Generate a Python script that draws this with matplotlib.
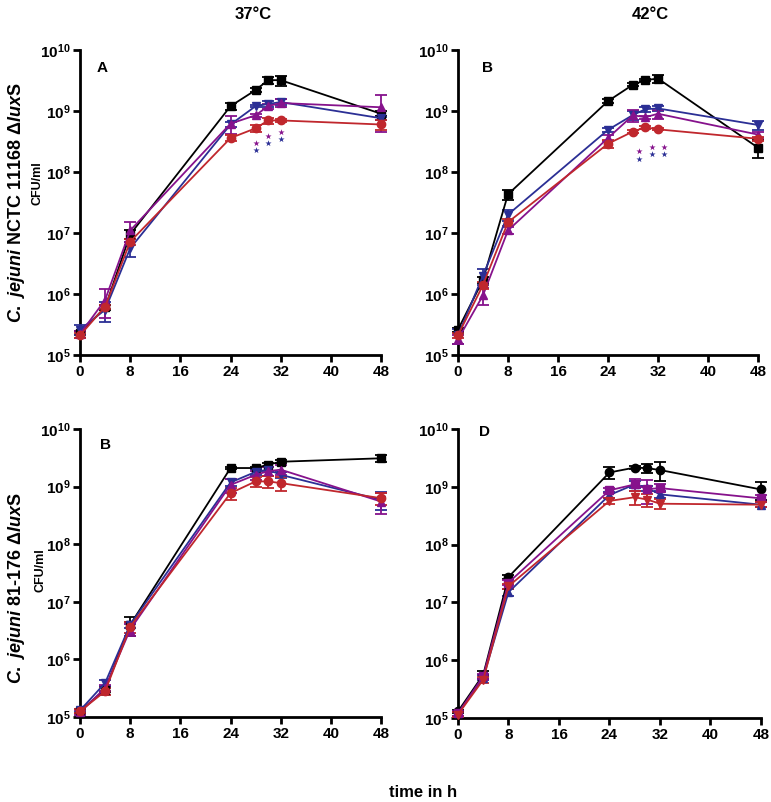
import matplotlib
matplotlib.use("Agg")
import matplotlib.pyplot as plt
from matplotlib.ticker import LogLocator, NullLocator, FixedLocator

plt.rcParams['font.family'] = ['Liberation Sans', 'DejaVu Sans']
plt.rcParams['mathtext.fontset'] = 'custom'
plt.rcParams['mathtext.rm'] = 'Liberation Sans:bold'
plt.rcParams['mathtext.it'] = 'Liberation Sans:italic:bold'
plt.rcParams['mathtext.bf'] = 'Liberation Sans:bold'
plt.rcParams['mathtext.default'] = 'rm'

hours = [0, 4, 8, 24, 28, 30, 32, 48]
x_ticks = [0, 8, 16, 24, 32, 40, 48]

BLACK = "#000000"
BLUE = "#2b2f95"
PURPLE = "#86128c"
RED = "#c0272d"

# panel A: NCTC 11168, 37 C
a_black = [2.3e5, 6.0e5, 9.5e6, 1.2e9, 2.2e9, 3.2e9, 3.2e9, 9.0e8]
a_black_err = [2e4, 5e4, 1.5e6, 1.5e8, 1.5e8, 4e8, 6e8, 8e7]
a_blue = [2.6e5, 5.5e5, 5.6e6, 6.0e8, 1.2e9, 1.3e9, 1.4e9, 7.6e8]
a_blue_err = [5e4, 2e5, 1.5e6, 5e7, 5e7, 1.5e8, 1.5e8, 5e7]
a_purple = [2.2e5, 8.0e5, 1.1e7, 6.2e8, 8.5e8, 1.2e9, 1.35e9, 1.15e9]
a_purple_err = [3e4, 4e5, 4e6, 2e8, 5e7, 1.2e8, 2e8, 7e8]
a_red = [2.1e5, 6.2e5, 7.2e6, 3.6e8, 5.2e8, 7.0e8, 7.0e8, 6.0e8]
a_red_err = [2e4, 5e4, 8e5, 4e7, 7e7, 8e7, 5e7, 1.2e8]

# panel B: NCTC 11168, 42 C
b_black = [2.6e5, 1.7e6, 4.3e7, 1.45e9, 2.7e9, 3.2e9, 3.4e9, 2.5e8]
b_black_err = [2e4, 2e5, 8e6, 1e8, 1.5e8, 1e8, 5e8, 8e7]
b_blue = [2.1e5, 2.0e6, 2.0e7, 4.9e8, 8.6e8, 1.07e9, 1.1e9, 5.9e8]
b_blue_err = [6e4, 6e5, 4e6, 3e7, 1.5e8, 1e8, 1.2e8, 1e8]
b_purple = [1.8e5, 9.5e5, 1.1e7, 3.6e8, 8.5e8, 7.9e8, 9.0e8, 4.1e8]
b_purple_err = [3e4, 3e5, 1.5e6, 4e7, 2e8, 5e7, 1.5e8, 5e7]
b_red = [2.1e5, 1.4e6, 1.5e7, 2.9e8, 4.6e8, 5.4e8, 5.0e8, 3.5e8]
b_red_err = [2e4, 2e5, 2e6, 4e7, 3e7, 3e7, 2e7, 3e7]

# panel C: 81-176, 37 C
c_black = [1.26e5, 3.0e5, 4.0e6, 2.1e9, 2.1e9, 2.4e9, 2.7e9, 3.1e9]
c_black_err = [1e4, 3e4, 1.5e6, 1e8, 1e8, 2e8, 1.5e8, 4e8]
c_blue = [1.3e5, 3.9e5, 4.0e6, 1.18e9, 1.8e9, 1.97e9, 1.6e9, 5.9e8]
c_blue_err = [1e4, 5e4, 5e5, 1.5e8, 2e8, 2e8, 2e8, 2e8]
c_purple = [1.2e5, 3.2e5, 3.3e6, 1.07e9, 1.6e9, 1.85e9, 1.97e9, 5.5e8]
c_purple_err = [1e4, 4e4, 8e5, 3e8, 3e8, 3e8, 4e8, 2.2e8]
c_red = [1.26e5, 2.8e5, 3.7e6, 7.7e8, 1.23e9, 1.23e9, 1.15e9, 6.3e8]
c_red_err = [1e4, 4e4, 8e5, 1.8e8, 2.5e8, 3e8, 3e8, 1.5e8]

# panel D: 81-176, 42 C
d_black = [1.3e5, 5.6e5, 2.75e7, 1.77e9, 2.15e9, 2.1e9, 1.95e9, 9.0e8]
d_black_err = [1e4, 8e4, 2e6, 4e8, 1e8, 4e8, 7e8, 3e8]
d_purple = [1.2e5, 5.3e5, 2.2e7, 8.7e8, 1.1e9, 9.1e8, 9.5e8, 6.3e8]
d_purple_err = [1e4, 5e4, 2e6, 8e7, 2.5e8, 4e8, 1.5e8, 8e7]
d_blue = [1.2e5, 5.0e5, 1.5e7, 7.2e8, 1.1e9, 9.5e8, 7.4e8, 4.9e8]
d_blue_err = [1e4, 5e4, 2e6, 8e7, 1.5e8, 1e8, 1e8, 5e7]
d_red = [1.15e5, 4.6e5, 1.9e7, 5.7e8, 6.6e8, 6.0e8, 5.1e8, 4.9e8]
d_red_err = [1e4, 5e4, 2e6, 6e7, 1.7e8, 1.5e8, 1e8, 5e7]

# significance stars: hours, purple star heights, blue star heights
a_star_h = [28, 30, 32]
a_star_purple = [3.0e8, 3.9e8, 4.6e8]
a_star_blue = [2.3e8, 3.0e8, 3.5e8]
b_star_h = [29, 31, 33]
b_star_purple = [2.2e8, 2.6e8, 2.6e8]
b_star_blue = [1.65e8, 1.95e8, 1.95e8]

panels = [
    dict(rect=[0.1038, 0.5574, 0.3904, 0.3803], letter="A", lpos=(0.075, 0.94),
         series=[(a_black, a_black_err, BLACK, 's'), (a_blue, a_blue_err, BLUE, 'v'),
                 (a_purple, a_purple_err, PURPLE, '^'), (a_red, a_red_err, RED, 'o')],
         stars=(a_star_h, a_star_purple, a_star_blue)),
    dict(rect=[0.5940, 0.5574, 0.3891, 0.3803], letter="B", lpos=(0.1, 0.94),
         series=[(b_black, b_black_err, BLACK, 's'), (b_blue, b_blue_err, BLUE, 'v'),
                 (b_purple, b_purple_err, PURPLE, '^'), (b_red, b_red_err, RED, 'o')],
         stars=(b_star_h, b_star_purple, b_star_blue)),
    dict(rect=[0.1038, 0.1060, 0.3904, 0.3591], letter="B", lpos=(0.083, 0.944),
         series=[(c_black, c_black_err, BLACK, 's'), (c_blue, c_blue_err, BLUE, 'v'),
                 (c_purple, c_purple_err, PURPLE, '^'), (c_red, c_red_err, RED, 'o')],
         stars=None),
    dict(rect=[0.5940, 0.1047, 0.3930, 0.3604], letter="D", lpos=(0.087, 0.99),
         series=[(d_black, d_black_err, BLACK, 'o'), (d_blue, d_blue_err, BLUE, '^'),
                 (d_purple, d_purple_err, PURPLE, 's'), (d_red, d_red_err, RED, 'v')],
         stars=None),
]

fig = plt.figure(figsize=(7.71, 8.02), dpi=100)

for p in panels:
    ax = fig.add_axes(p["rect"])
    for vals, err, col, mk in p["series"]:
        ax.errorbar(hours, vals, yerr=err, color=col, marker=mk, markersize=6,
                    linewidth=1.3, elinewidth=1.3, capsize=4, capthick=1.3,
                    clip_on=False, zorder=3)
    if p["stars"]:
        sh, sp, sb = p["stars"]
        ax.scatter(sh, sp, marker="*", s=22, color=PURPLE, linewidths=0, zorder=4)
        ax.scatter(sh, sb, marker="*", s=22, color=BLUE, linewidths=0, zorder=4)
    ax.set_yscale("log")
    ax.set_ylim(1e5, 1e10)
    ax.set_xlim(0, 48)
    ax.yaxis.set_major_locator(LogLocator(base=10, numticks=10))
    ax.yaxis.set_minor_locator(NullLocator())
    ax.xaxis.set_major_locator(FixedLocator(x_ticks))
    for s in ["top", "right"]:
        ax.spines[s].set_visible(False)
    for s in ["left", "bottom"]:
        ax.spines[s].set_linewidth(2)
    ax.tick_params(direction="out", length=5, width=2, labelsize=11, pad=2)
    for lab in ax.get_xticklabels() + ax.get_yticklabels():
        lab.set_fontweight("bold")
    ax.text(p["lpos"][0], p["lpos"][1], p["letter"], transform=ax.transAxes,
            fontsize=11, fontweight="bold", ha="center", va="center")

fig.text(0.328, 0.982, "37°C", fontsize=12, fontweight="bold", ha="center", va="center")
fig.text(0.843, 0.982, "42°C", fontsize=12, fontweight="bold", ha="center", va="center")
fig.text(0.549, 0.012, "time in h", fontsize=12, fontweight="bold", ha="center", va="center")

fig.text(0.048, 0.772, "CFU/ml", fontsize=9, fontweight="bold", rotation=90, ha="center", va="center")
fig.text(0.052, 0.289, "CFU/ml", fontsize=9, fontweight="bold", rotation=90, ha="center", va="center")

fig.text(0.022, 0.748, r"$\it{C.\ jejuni}$ NCTC 11168 Δ$\it{lux}$S", fontsize=13,
         fontweight="bold", rotation=90, ha="center", va="center")
fig.text(0.022, 0.267, r"$\it{C.\ jejuni}$ 81-176 Δ$\it{lux}$S", fontsize=13,
         fontweight="bold", rotation=90, ha="center", va="center")

fig.savefig("out.png", dpi=100)
